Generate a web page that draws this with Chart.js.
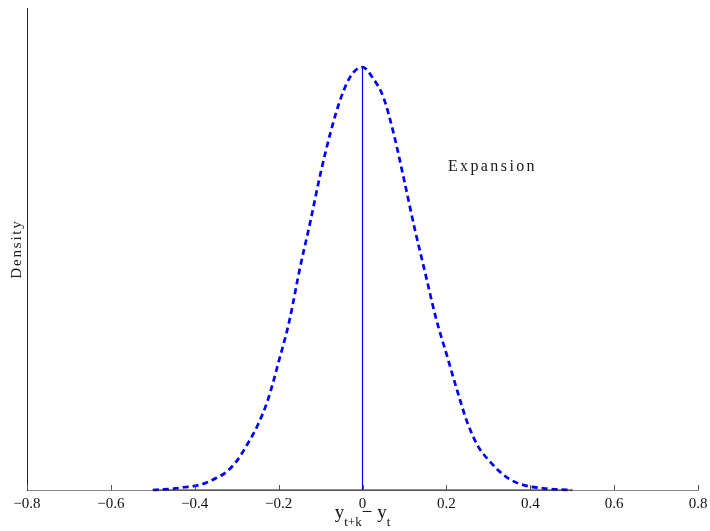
<!DOCTYPE html>
<html>
<head>
<meta charset="utf-8">
<script src="https://cdn.jsdelivr.net/npm/chart.js@4.4.1/dist/chart.umd.min.js"></script>
<style>
html,body{margin:0;padding:0;background:#fff;}
#wrap{width:710px;height:531px;}
</style>
</head>
<body>
<div id="wrap"><canvas id="c" width="710" height="531"></canvas></div>
<script>
// Data
const xValues = [-0.5,-0.475,-0.45,-0.425,-0.4,-0.375,-0.35,-0.325,-0.3,-0.275,-0.25,-0.225,-0.2,-0.175,-0.15,-0.125,-0.1,-0.075,-0.05,-0.025,0,
  0.025,0.05,0.075,0.1,0.125,0.15,0.175,0.2,0.225,0.25,0.275,0.3,0.325,0.35,0.375,0.4,0.425,0.45,0.475,0.5];
const densityValues = [0,0.004,0.01,0.02,0.03,0.05,0.085,0.13,0.21,0.33,0.47,0.66,0.93,1.22,1.6,1.94,2.3,2.61,2.86,3.02,3.07,
  2.99,2.85,2.58,2.24,1.89,1.57,1.25,0.99,0.73,0.49,0.32,0.22,0.14,0.08,0.044,0.025,0.015,0.007,0.003,0];
const markerX = [0, 0];
const markerY = [0, 3.07];
const supportX = [-0.5, 0.5];
const supportY = [0, 0];
const xTicks = [-0.8,-0.6,-0.4,-0.2,0,0.2,0.4,0.6,0.8];
const annotationText = "Expansion";
const annotationPos = [0.2, 2.35];
const yTitle = "Density";

const curve = xValues.map((x,i)=>({x:x,y:densityValues[i]}));
const marker = markerX.map((x,i)=>({x:x,y:markerY[i]}));
const support = supportX.map((x,i)=>({x:x,y:supportY[i]}));

const serif = '"Liberation Serif","Times New Roman",serif';

function fmt(v){
  const s = Math.abs(v) < 1e-9 ? "0" : String(Math.round(v*10)/10);
  return s.replace("-", "\u2212");
}

const extras = {
  id: 'extras',
  afterDraw(chart){
    const ctx = chart.ctx;
    const xs = chart.scales.x, ys = chart.scales.y;
    const a = chart.chartArea;
    ctx.save();
    // inward tick marks
    ctx.strokeStyle = '#555';
    ctx.lineWidth = 1;
    xTicks.forEach(t=>{
      const px = Math.round(xs.getPixelForValue(t)) + 0.5;
      ctx.beginPath();
      ctx.moveTo(px, a.bottom);
      ctx.lineTo(px, a.bottom - 5);
      ctx.stroke();
    });
    // annotation
    ctx.fillStyle = '#1a1a1a';
    ctx.font = '16px ' + serif;
    ctx.letterSpacing = '2.4px';
    ctx.textBaseline = 'alphabetic';
    ctx.textAlign = 'left';
    ctx.fillText(annotationText, xs.getPixelForValue(annotationPos[0]) + 1.5, ys.getPixelForValue(annotationPos[1]) + 5);
    // y title
    ctx.save();
    ctx.font = '15px ' + serif;
    ctx.letterSpacing = '1.8px';
    ctx.translate(21, (a.top + a.bottom)/2);
    ctx.rotate(-Math.PI/2);
    ctx.textAlign = 'center';
    ctx.fillText(yTitle, 0, 0);
    ctx.restore();
    // x title with subscripts
    ctx.letterSpacing = '0px';
    ctx.fillStyle = '#111';
    const big = '19px ' + serif, small = '13px ' + serif;
    const parts = [["y",big,0],["t+k",small,8],["\u2212",big,0],[" y",big,0],["t",small,8]];
    let total = 0;
    parts.forEach(p=>{ctx.font=p[1]; total += ctx.measureText(p[0]).width;});
    let x = (a.left + a.right)/2 - total/2;
    const base = 518;
    ctx.textAlign = 'left';
    parts.forEach(p=>{
      ctx.font = p[1];
      ctx.fillText(p[0], x, base + p[2]);
      x += ctx.measureText(p[0]).width;
    });
    ctx.restore();
  }
};

new Chart(document.getElementById('c'), {
  type: 'scatter',
  data: {
    datasets: [
      {
        data: support,
        showLine: true,
        borderColor: '#222',
        borderWidth: 1.2,
        pointRadius: 0,
        clip: false
      },
      {
        data: curve,
        showLine: true,
        borderColor: '#0000ff',
        borderWidth: 2.7,
        borderDash: [6,4],
        pointRadius: 0,
        cubicInterpolationMode: 'monotone',
        clip: false
      },
      {
        data: marker,
        showLine: true,
        borderColor: '#0000ff',
        borderWidth: 1.2,
        pointRadius: 0
      }
    ]
  },
  options: {
    responsive: false,
    animation: false,
    layout: {padding: {left: 27, right: 12, top: 8, bottom: 0}},
    plugins: {legend: {display: false}, tooltip: {enabled: false}},
    scales: {
      x: {
        type: 'linear',
        min: -0.8, max: 0.8,
        afterBuildTicks: (s)=>{ s.ticks = xTicks.map(v=>({value:v})); },
        afterFit: (s)=>{ s.height = 41; s.paddingLeft = 0; s.paddingRight = 0; },
        grid: {display: true, drawOnChartArea: false, drawTicks: false},
        border: {display: true, color: '#888', width: 1},
        ticks: {
          padding: 5,
          color: '#111',
          font: {family: serif, size: 15},
          maxRotation: 0,
          autoSkip: false,
          callback: (v)=>fmt(v)
        }
      },
      y: {
        type: 'linear',
        min: 0, max: 3.5,
        afterFit: (s)=>{ s.width = 0; },
        grid: {display: false, drawTicks: false},
        border: {display: true, color: '#222', width: 1},
        ticks: {display: false}
      }
    }
  },
  plugins: [extras]
});
</script>
</body>
</html>
